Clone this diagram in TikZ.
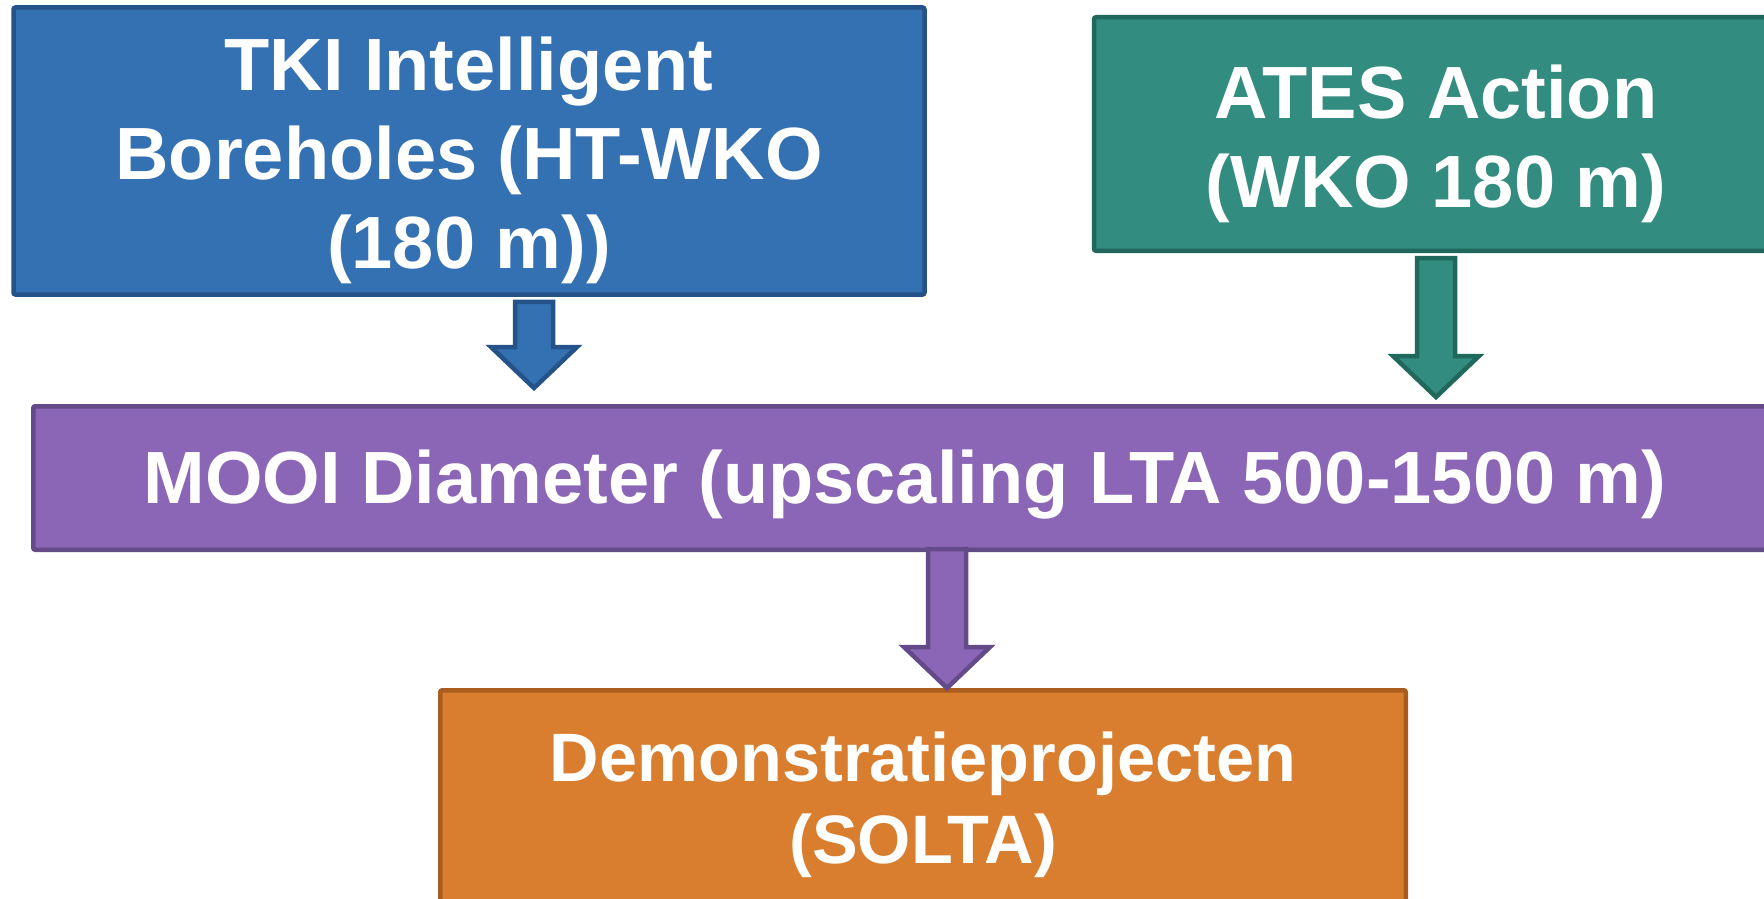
\documentclass[tikz,border=0pt]{standalone}
\usepackage{fontspec}
\setmainfont{Liberation Sans}
\usetikzlibrary{calc}
\definecolor{bluefill}{HTML}{3471B2}
\definecolor{blueline}{HTML}{255289}
\definecolor{tealfill}{HTML}{328C7F}
\definecolor{tealline}{HTML}{20685C}
\definecolor{purplefill}{HTML}{8B66B6}
\definecolor{purpleline}{HTML}{654A8A}
\definecolor{orangefill}{HTML}{D97E2E}
\definecolor{orangeline}{HTML}{AA5D1E}
\begin{document}
\begin{tikzpicture}[x=1pt,y=-1pt,
  box/.style={draw, line width=4.5pt, rounded corners=2pt, inner sep=0pt},
  boxtext/.style={text=white, align=center, inner sep=0pt, font=\bfseries\fontsize{74}{89}\selectfont},
  smalltext/.style={boxtext, font=\bfseries\fontsize{68.5}{82}\selectfont},
  blockarrow/.style={line width=4.5pt, line join=miter, miter limit=10}]
\useasboundingbox (0,0) rectangle (1764,899);
\clip (0,0) rectangle (1764,899);
\newcommand{\blockarrowpath}[2]{%
  ($(#1)+(-19,0)$) -- ($(#2)+(-19,-41)$) -- ($(#2)+(-43,-41)$) -- (#2) --
  ($(#2)+(43,-41)$) -- ($(#2)+(19,-41)$) -- ($(#1)+(19,0)$) -- cycle}

% boxes
\node[box, fill=bluefill, draw=blueline, minimum width=911pt, minimum height=287pt] (tki) at (469,151) {};
\node[box, fill=tealfill, draw=tealline, minimum width=684pt, minimum height=233.5pt] (ates) at (1436,134) {};
\node[box, fill=purplefill, draw=purpleline, minimum width=1743.5pt, minimum height=143.5pt] (mooi) at (905,478) {};
\node[box, fill=orangefill, draw=orangeline, minimum width=965.5pt, minimum height=215.5pt] (demo) at (923,798) {};

% texts
\node[boxtext] (tkitext) at ($(tki.center)+(0,9)$) {TKI Intelligent\\Boreholes (HT-WKO\\(180 m))};
\node[boxtext] (atestext) at ($(ates.center)+(0,9.5)$) {ATES Action\\(WKO 180 m)};
\node[boxtext] (mooitext) at ($(mooi.center)+(0,7)$) {MOOI Diameter (upscaling LTA 500-1500 m)};
\node[smalltext] (demotext) at ($(demo.center)+(0,7)$) {Demonstratieprojecten\\(SOLTA)};

% arrows
\path (tki.south) ++(65,5) coordinate (a1s);
\path (mooi.north) ++(-371,-16) coordinate (a1t);
\path (ates.south) ++(0,5) coordinate (a2s);
\path (mooi.north) ++(531,-7) coordinate (a2t);
\path (mooi.south) ++(42,-3) coordinate (a3s);
\path (demo.north) ++(24,0) coordinate (a3t);

\draw[blockarrow, fill=bluefill, draw=blueline] \blockarrowpath{a1s}{a1t};
\draw[blockarrow, fill=tealfill, draw=tealline] \blockarrowpath{a2s}{a2t};
\draw[blockarrow, fill=purplefill, draw=purpleline] \blockarrowpath{a3s}{a3t};
\end{tikzpicture}
\end{document}
